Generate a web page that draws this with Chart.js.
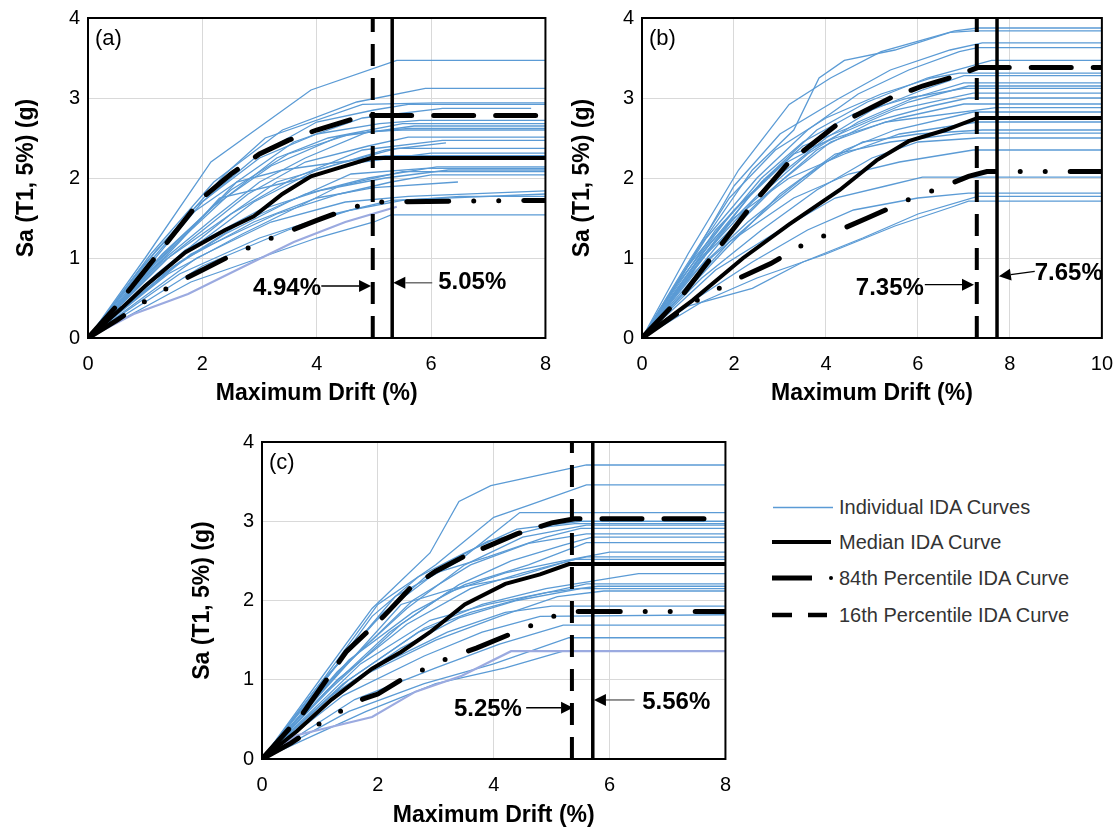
<!DOCTYPE html>
<html><head><meta charset="utf-8">
<script src="https://cdn.jsdelivr.net/npm/chart.js@4.4.0/dist/chart.umd.min.js"></script>
<style>
body{margin:0;background:#fff;width:1119px;height:829px;position:relative;overflow:hidden;font-family:'Liberation Sans',Arial,sans-serif;}
canvas{position:absolute;}
.lg{position:absolute;left:839px;font-size:20px;line-height:24px;color:#333;white-space:nowrap;}
</style></head><body>
<canvas id="ca" width="565" height="412" style="left:0;top:-2px"></canvas>
<canvas id="cb" width="567" height="412" style="left:560px;top:-2px"></canvas>
<canvas id="cc" width="565" height="409" style="left:180px;top:420px"></canvas>
<svg style="position:absolute;left:760px;top:490px" width="80" height="140">
  <line x1="13" y1="17.5" x2="73" y2="17.5" stroke="#5B9BD5" stroke-width="1.3"/>
  <line x1="12" y1="52" x2="71" y2="52" stroke="#000" stroke-width="4"/>
  <line x1="12" y1="88" x2="52" y2="88" stroke="#000" stroke-width="5"/>
  <circle cx="71" cy="88" r="2" fill="#000"/>
  <line x1="12" y1="125" x2="32" y2="125" stroke="#000" stroke-width="4.5"/>
  <line x1="48" y1="125" x2="67" y2="125" stroke="#000" stroke-width="4.5"/>
</svg>
<div class="lg" style="top:495px">Individual IDA Curves</div>
<div class="lg" style="top:530px">Median IDA Curve</div>
<div class="lg" style="top:566px">84th Percentile IDA Curve</div>
<div class="lg" style="top:603px">16th Percentile IDA Curve</div>
<script>
// ---------- DATA: chart (a) ----------
const curvesA = [
  [[0,0],[1.0,1.0],[2.15,2.2],[3.9,3.1],[5.4,3.47],[8,3.47]],
  [[0,0],[1.1,1.05],[2.2,1.95],[3.4,2.6],[4.7,2.95],[5.9,3.12],[8,3.12]],
  [[0,0],[1.2,1.1],[2.4,2.05],[3.1,2.5],[4.8,2.92],[6.1,2.94],[8,2.94]],
  [[0,0],[1.0,0.85],[2.0,1.7],[3.0,2.3],[4.0,2.7],[5.0,2.85],[5.6,2.92],[8,2.92]],
  [[0,0],[1.3,1.0],[2.6,1.95],[3.6,2.45],[4.8,2.75],[6.2,2.87],[7.75,2.87]],
  [[0,0],[0.9,0.85],[1.9,1.65],[3.0,2.25],[4.0,2.55],[5.1,2.68],[5.8,2.72],[8,2.72]],
  [[0,0],[1.2,0.95],[2.4,1.75],[3.3,2.25],[4.2,2.5],[5.5,2.68],[8,2.68]],
  [[0,0],[1.1,0.9],[2.2,1.65],[3.2,2.15],[4.4,2.52],[5.7,2.65],[8,2.65]],
  [[0,0],[1.3,1.05],[2.5,1.85],[3.5,2.3],[4.6,2.55],[5.6,2.62],[8,2.62]],
  [[0,0],[1.1,0.85],[2.2,1.5],[3.0,1.95],[3.8,2.25],[4.9,2.58],[5.5,2.6],[8,2.6]],
  [[0,0],[1.4,1.0],[2.8,1.8],[3.8,2.2],[4.9,2.4],[5.6,2.51],[8,2.51]],
  [[0,0],[1.2,0.8],[2.5,1.55],[3.6,2.0],[4.8,2.35],[6.2,2.47],[8,2.47]],
  [[0,0],[1.5,0.95],[2.9,1.7],[4.0,2.1],[5.2,2.35],[6.26,2.44]],
  [[0,0],[1.3,0.95],[2.6,1.6],[3.3,1.95],[4.5,2.2],[5.4,2.37],[8,2.37]],
  [[0,0],[1.6,1.2],[2.3,1.75],[3.5,1.95],[4.8,2.2],[6.0,2.31],[8,2.31]],
  [[0,0],[0.9,0.8],[1.8,1.55],[2.6,1.95],[3.4,2.1],[4.4,2.2],[5.2,2.28],[8,2.28]],
  [[0,0],[1.5,0.9],[2.7,1.45],[3.8,1.8],[4.9,2.0],[6.1,2.14],[8,2.14]],
  [[0,0],[1.2,0.75],[2.4,1.3],[3.5,1.7],[4.6,2.05],[5.9,2.12],[8,2.12]],
  [[0,0],[1.7,1.1],[3.0,1.6],[4.1,1.85],[5.2,2.0],[6.3,2.1],[8,2.1]],
  [[0,0],[1.4,0.8],[2.7,1.3],[3.7,1.65],[4.4,1.9],[5.5,2.08],[8,2.08]],
  [[0,0],[1.8,1.05],[3.3,1.55],[4.4,1.8],[5.3,1.95],[6.0,2.04],[8,2.04]],
  [[0,0],[1.6,0.95],[2.9,1.45],[4.0,1.75],[5.0,1.88],[6.47,1.95]],
  [[0,0],[1.9,1.0],[3.2,1.45],[4.5,1.7],[5.6,1.77],[8,1.84]],
  [[0,0],[1.6,0.8],[3.0,1.25],[4.3,1.55],[5.3,1.72],[8,1.8]],
  [[0,0],[2.0,0.9],[3.5,1.35],[4.6,1.6],[5.5,1.72],[6.5,1.77],[8,1.77]],
  [[0,0],[1.8,0.7],[3.0,1.0],[4.0,1.25],[5.0,1.45],[5.3,1.54],[8,1.54]]
];
const lowA = [[0,0],[0.8,0.3],[1.75,0.55],[2.6,0.85],[3.6,1.2],[4.5,1.45],[5.4,1.64]];
const medianA = [[0,0],[0.6,0.38],[1.0,0.65],[1.7,1.07],[2.4,1.35],[2.9,1.52],[3.4,1.8],[3.9,2.02],[4.4,2.13],[4.95,2.25],[8,2.25]];
const p84A = [[0,0],[0.5,0.4],[1.0,0.85],[1.5,1.3],[2.0,1.75],[2.5,2.05],[3.0,2.3],[3.5,2.47],[4.0,2.6],[4.6,2.73],[4.95,2.78],[8,2.78]];
const p16A = [[0,0],[0.5,0.22],[1.0,0.46],[1.5,0.67],[2.0,0.85],[2.5,1.03],[3.0,1.19],[3.5,1.33],[4.0,1.47],[4.5,1.6],[4.95,1.7],[8,1.72]];
const vertA = [4.98, 5.32];           // [dashed, solid]
const labelsA = ['4.94%', '5.05%'];

// ---------- DATA: chart (b) ----------
const curvesB = [
  [[0,0],[1.0,1.05],[2.1,2.1],[3.2,2.92],[4.1,3.25],[5.2,3.58],[6.8,3.84],[7.3,3.875],[10,3.875]],
  [[0,0],[1.2,1.1],[2.4,2.1],[3.3,2.6],[3.85,3.25],[4.4,3.47],[5.5,3.6],[6.7,3.82],[7.2,3.84],[10,3.84]],
  [[0,0],[1.1,1.0],[2.0,1.9],[3.0,2.55],[4.3,3.0],[5.4,3.35],[6.7,3.6],[7.4,3.69],[10,3.69]],
  [[0,0],[1.4,1.25],[2.5,2.0],[3.6,2.6],[4.7,3.05],[5.8,3.35],[6.9,3.58],[7.3,3.63],[10,3.63]],
  [[0,0],[1.3,1.05],[2.6,1.95],[3.8,2.6],[4.9,2.95],[6.2,3.25],[7.6,3.47],[10,3.47]],
  [[0,0],[0.9,0.85],[1.9,1.75],[2.9,2.35],[4.0,2.75],[5.2,3.05],[6.3,3.25],[6.9,3.31],[10,3.31]],
  [[0,0],[1.5,1.2],[2.8,1.95],[4.0,2.5],[5.0,2.85],[6.1,3.1],[7.0,3.28],[10,3.28]],
  [[0,0],[1.2,0.95],[2.4,1.7],[3.6,2.3],[4.7,2.7],[5.9,3.0],[7.0,3.19],[10,3.19]],
  [[0,0],[1.6,1.35],[2.7,2.0],[3.5,2.4],[4.6,2.65],[5.8,2.95],[7.1,3.15],[10,3.15]],
  [[0,0],[0.8,0.7],[1.8,1.45],[2.6,2.0],[3.5,2.45],[4.6,2.8],[5.8,3.0],[7.0,3.12],[10,3.12]],
  [[0,0],[1.0,0.9],[2.0,1.6],[3.0,2.15],[4.3,2.55],[5.5,2.85],[7.2,3.06],[10,3.06]],
  [[0,0],[1.4,1.05],[2.7,1.8],[3.8,2.35],[5.0,2.7],[6.3,2.9],[7.1,3.0],[10,3.0]],
  [[0,0],[1.3,1.0],[2.3,1.75],[3.3,2.3],[4.2,2.5],[5.6,2.75],[7.0,2.925],[10,2.925]],
  [[0,0],[1.7,1.2],[3.0,1.95],[4.1,2.45],[5.3,2.7],[7.7,2.88],[10,2.88]],
  [[0,0],[1.1,0.8],[2.3,1.45],[3.5,2.0],[4.4,2.35],[5.5,2.6],[7.2,2.825],[10,2.825]],
  [[0,0],[1.2,0.9],[2.0,1.5],[3.2,2.0],[4.4,2.3],[5.6,2.55],[7.3,2.7],[10,2.7]],
  [[0,0],[1.5,1.0],[2.8,1.65],[4.0,2.2],[4.8,2.45],[6.0,2.55],[7.4,2.6],[10,2.6]],
  [[0,0],[1.8,1.1],[3.0,1.8],[4.2,2.3],[5.4,2.45],[7.0,2.56],[10,2.56]],
  [[0,0],[1.3,0.75],[2.6,1.35],[3.8,1.85],[5.0,2.25],[6.0,2.45],[7.3,2.5],[10,2.5]],
  [[0,0],[1.9,1.2],[3.3,1.75],[4.5,2.05],[5.6,2.2],[7.2,2.35],[10,2.35]],
  [[0,0],[1.6,0.85],[3.0,1.35],[4.2,1.75],[5.3,1.9],[6.1,2.01],[10,2.01]],
  [[0,0],[1.2,0.5],[2.4,0.95],[3.6,1.35],[4.6,1.6],[6.0,1.75],[7.1,1.81],[10,1.81]],
  [[0,0],[1.0,0.4],[2.4,0.62],[3.5,0.95],[4.8,1.25],[6.0,1.55],[7.3,1.77],[10,1.77]],
  [[0,0],[1.3,0.45],[2.5,0.75],[4.0,1.05],[5.5,1.4],[6.8,1.65],[7.1,1.71],[10,1.71]]
];
const medianB = [[0,0],[1.1,0.47],[2.2,1.0],[3.2,1.42],[4.3,1.85],[5.1,2.22],[5.8,2.46],[6.6,2.6],[7.3,2.75],[10,2.75]];
const p84B = [[0,0],[0.9,0.55],[1.5,1.0],[2.4,1.67],[3.2,2.2],[4.2,2.65],[5.4,3.0],[6.1,3.15],[6.8,3.27],[7.3,3.38],[10,3.38]];
const p16B = [[0,0],[0.5,0.2],[1.1,0.44],[2.0,0.72],[2.8,0.93],[3.6,1.2],[4.3,1.35],[4.9,1.5],[5.8,1.73],[6.5,1.88],[7.1,2.02],[7.5,2.08],[10,2.08]];
const vertB = [7.28, 7.72];
const labelsB = ['7.35%', '7.65%'];

// ---------- DATA: chart (c) ----------
const curvesC = [
  [[0,0],[1.0,1.0],[1.9,1.9],[2.9,2.6],[3.4,3.25],[3.95,3.45],[5.6,3.71],[8,3.71]],
  [[0,0],[1.1,1.05],[2.0,1.95],[3.0,2.45],[4.0,3.05],[4.6,3.2],[5.6,3.46],[8,3.46]],
  [[0,0],[1.2,1.1],[2.3,2.05],[3.4,2.5],[4.45,3.11],[8,3.11]],
  [[0,0],[1.0,0.9],[1.9,1.8],[2.7,2.3],[3.5,2.6],[4.4,2.9],[5.5,3.0],[8,3.0]],
  [[0,0],[0.9,0.85],[1.9,1.7],[2.9,2.35],[3.9,2.75],[4.9,2.93],[5.4,2.97],[8,2.97]],
  [[0,0],[1.3,1.1],[2.5,1.9],[3.5,2.45],[4.5,2.8],[5.6,2.95],[8,2.95]],
  [[0,0],[1.0,0.95],[2.1,1.85],[3.0,2.35],[3.9,2.55],[4.9,2.8],[5.5,2.91],[8,2.91]],
  [[0,0],[1.4,1.15],[2.6,2.0],[3.6,2.45],[4.6,2.72],[5.6,2.84],[8,2.84]],
  [[0,0],[1.2,0.9],[2.4,1.7],[3.4,2.2],[4.3,2.5],[5.2,2.7],[5.7,2.8],[8,2.8]],
  [[0,0],[1.5,1.25],[2.6,1.85],[3.5,2.2],[4.6,2.45],[5.6,2.73],[8,2.73]],
  [[0,0],[1.1,0.85],[2.2,1.6],[3.2,2.1],[4.2,2.35],[5.2,2.5],[6.0,2.61],[8,2.61]],
  [[0,0],[1.6,1.3],[2.4,1.95],[3.3,2.15],[4.4,2.3],[5.3,2.5],[5.6,2.55],[8,2.55]],
  [[0,0],[1.3,1.0],[2.5,1.7],[3.6,2.15],[4.5,2.35],[5.4,2.52],[8,2.52]],
  [[0,0],[1.5,1.0],[2.8,1.65],[3.8,1.95],[4.9,2.15],[6.5,2.34],[8,2.34]],
  [[0,0],[1.4,0.95],[2.7,1.6],[3.6,1.85],[4.6,2.05],[5.6,2.21],[8,2.21]],
  [[0,0],[1.7,1.2],[2.9,1.75],[3.9,1.95],[4.9,2.1],[5.8,2.18],[8,2.18]],
  [[0,0],[1.2,0.8],[2.4,1.4],[3.4,1.78],[4.4,2.0],[5.5,2.15],[8,2.15]],
  [[0,0],[1.6,1.0],[3.0,1.5],[4.1,1.8],[5.1,2.05],[5.9,2.12],[8,2.12]],
  [[0,0],[1.8,1.1],[3.2,1.6],[4.2,1.85],[5.0,1.93],[8,1.93]],
  [[0,0],[1.4,0.8],[2.8,1.3],[3.8,1.6],[4.8,1.8],[8,1.82]],
  [[0,0],[1.6,0.75],[3.0,1.15],[4.1,1.45],[5.2,1.69],[8,1.69]],
  [[0,0],[1.5,0.6],[2.8,0.95],[4.0,1.2],[5.3,1.53],[8,1.53]],
  [[0,0],[1.8,0.6],[3.0,0.95],[4.2,1.15],[5.2,1.36]]
];
const lowC = [[0,0],[0.6,0.3],[1.9,0.53],[2.65,0.85],[3.45,1.05],[4.3,1.36],[8,1.36]];
const medianC = [[0,0],[0.6,0.35],[1.2,0.75],[1.9,1.14],[2.4,1.35],[2.9,1.6],[3.5,1.95],[4.2,2.21],[4.8,2.33],[5.3,2.46],[8,2.46]];
const p84C = [[0,0],[0.7,0.57],[1.45,1.35],[2.1,1.8],[2.55,2.15],[3.0,2.37],[3.5,2.56],[4.4,2.84],[5.0,2.98],[5.4,3.03],[8,3.03]];
const p16C = [[0,0],[0.5,0.2],[1.0,0.45],[1.4,0.62],[1.75,0.76],[2.0,0.82],[2.4,1.0],[3.2,1.27],[3.7,1.4],[4.3,1.58],[4.7,1.7],[5.1,1.82],[5.4,1.86],[8,1.86]];
const vertC = [5.35, 5.71];
const labelsC = ['5.25%', '5.56%'];

const xTitle = 'Maximum Drift (%)';
const yTitle = 'Sa (T1, 5%) (g)';

// ---------- rendering ----------
const F = "'Liberation Sans', Arial, sans-serif";
const BLUE = '#5B9BD5';
const pts = arr => arr.map(([x, y]) => ({x, y}));

const framePlugin = {
  id: 'frame',
  afterDraw(chart, args, o) {
    const {ctx, chartArea: a} = chart;
    const sx = chart.scales.x, sy = chart.scales.y;
    ctx.save();
    ctx.strokeStyle = '#000'; ctx.lineWidth = 2;
    ctx.strokeRect(a.left, a.top, a.width, a.height);
    ctx.fillStyle = '#000';
    ctx.font = '22px ' + F; ctx.textAlign = 'left'; ctx.textBaseline = 'middle';
    ctx.fillText(o.panel, a.left + 7, a.top + 21);
    ctx.font = 'bold 24px ' + F; ctx.textAlign = 'center';
    o.texts.forEach(t => ctx.fillText(t.s, sx.getPixelForValue(t.x), sy.getPixelForValue(t.y)));
    o.arrows.forEach(ar => {
      const x1 = sx.getPixelForValue(ar.x1), y1 = sy.getPixelForValue(ar.y1);
      const x2 = sx.getPixelForValue(ar.x2), y2 = sy.getPixelForValue(ar.y2);
      const ang = Math.atan2(y2 - y1, x2 - x1);
      const L = 12, W = 6;
      ctx.strokeStyle = ar.c; ctx.lineWidth = 1.3;
      ctx.beginPath(); ctx.moveTo(x1, y1);
      ctx.lineTo(x2 - L * Math.cos(ang), y2 - L * Math.sin(ang)); ctx.stroke();
      ctx.fillStyle = '#000';
      ctx.beginPath(); ctx.moveTo(x2, y2);
      ctx.lineTo(x2 - L * Math.cos(ang) + W * Math.sin(ang), y2 - L * Math.sin(ang) - W * Math.cos(ang));
      ctx.lineTo(x2 - L * Math.cos(ang) - W * Math.sin(ang), y2 - L * Math.sin(ang) + W * Math.cos(ang));
      ctx.closePath(); ctx.fill();
    });
    ctx.restore();
  }
};

function makeChart(id, d) {
  const ds = [];
  d.curves.forEach(c => ds.push({data: pts(c), borderColor: BLUE, borderWidth: 1.3, order: 10}));
  if (d.low) ds.push({data: pts(d.low), borderColor: '#9BAAE0', borderWidth: 2.2, order: 9});
  ds.push({data: pts(d.p16), borderColor: '#000', borderWidth: 5, borderCapStyle: 'round',
           borderDash: [42, 25, 0, 25, 0, 25], order: 5});
  ds.push({data: pts(d.p84), borderColor: '#000', borderWidth: 5, borderCapStyle: 'round',
           borderDash: [40, 22], order: 5});
  ds.push({data: pts(d.median), borderColor: '#000', borderWidth: 4, order: 4});
  ds.push({data: pts([[d.vert[0], 0], [d.vert[0], 4]]), borderColor: '#000', borderWidth: 4,
           borderDash: [22, 12], order: 1});
  ds.push({data: pts([[d.vert[1], 0], [d.vert[1], 4]]), borderColor: '#000', borderWidth: 3.5, order: 1});
  ds.forEach(s => { s.pointRadius = 0; s.tension = 0; s.fill = false; s.spanGaps = true; });

  new Chart(document.getElementById(id), {
    type: 'line',
    data: {datasets: ds},
    options: {
      responsive: false, animation: false, events: [],
      layout: {padding: d.pad},
      plugins: {legend: {display: false}, tooltip: {enabled: false},
        frame: {panel: d.panel, texts: d.texts, arrows: d.arrows}},
      scales: {
        x: {type: 'linear', min: 0, max: d.xMax,
            ticks: {stepSize: 2, color: '#000', font: {size: 20, family: F}, padding: 14, maxRotation: 0},
            grid: {color: '#d9d9d9', lineWidth: 1, drawTicks: false},
            border: {display: false},
            title: {display: true, text: xTitle, color: '#000', font: {size: 23, weight: 'bold', family: F},
                    padding: {top: 0, bottom: d.xtPad}},
            afterFit: s => { s.height = d.xH; }},
        y: {type: 'linear', min: 0, max: 4,
            ticks: {stepSize: 1, color: '#000', font: {size: 20, family: F}, padding: 8},
            grid: {color: '#d9d9d9', lineWidth: 1, drawTicks: false},
            border: {display: false},
            title: {display: true, text: yTitle, color: '#000', font: {size: 23, weight: 'bold', family: F},
                    padding: {top: d.ytPad, bottom: 0}},
            afterFit: s => { s.width = d.yW; }}
      }
    },
    plugins: [framePlugin]
  });
}

makeChart('ca', {curves: curvesA, low: lowA, median: medianA, p84: p84A, p16: p16A, vert: vertA,
  xMax: 8, pad: {left: 0, top: 20, right: 0, bottom: 0}, yW: 88, xH: 72, xtPad: 3, ytPad: 13, panel: '(a)',
  texts: [{s: labelsA[0], x: 3.48, y: 0.625}, {s: labelsA[1], x: 6.72, y: 0.69}],
  arrows: [{x1: 4.08, y1: 0.65, x2: 4.95, y2: 0.65, c: '#000'}, {x1: 6.02, y1: 0.69, x2: 5.34, y2: 0.69, c: '#595959'}]});

makeChart('cb', {curves: curvesB, low: null, median: medianB, p84: p84B, p16: p16B, vert: vertB,
  xMax: 10, pad: {left: 0, top: 20, right: 0, bottom: 0}, yW: 82, xH: 72, xtPad: 3, ytPad: 9, panel: '(b)',
  texts: [{s: labelsB[0], x: 5.39, y: 0.625}, {s: labelsB[1], x: 9.28, y: 0.81}],
  arrows: [{x1: 6.15, y1: 0.666, x2: 7.22, y2: 0.666, c: '#000'}, {x1: 8.54, y1: 0.834, x2: 7.76, y2: 0.771, c: '#000'}]});

makeChart('cc', {curves: curvesC, low: lowC, median: medianC, p84: p84C, p16: p16C, vert: vertC,
  xMax: 8, pad: {left: 0, top: 22, right: 0, bottom: 0}, yW: 82, xH: 70, xtPad: 0, ytPad: 9, panel: '(c)',
  texts: [{s: labelsC[0], x: 3.9, y: 0.62}, {s: labelsC[1], x: 7.15, y: 0.72}],
  arrows: [{x1: 4.56, y1: 0.647, x2: 5.37, y2: 0.647, c: '#000'}, {x1: 6.43, y1: 0.745, x2: 5.73, y2: 0.745, c: '#595959'}]});
</script>
</body></html>
